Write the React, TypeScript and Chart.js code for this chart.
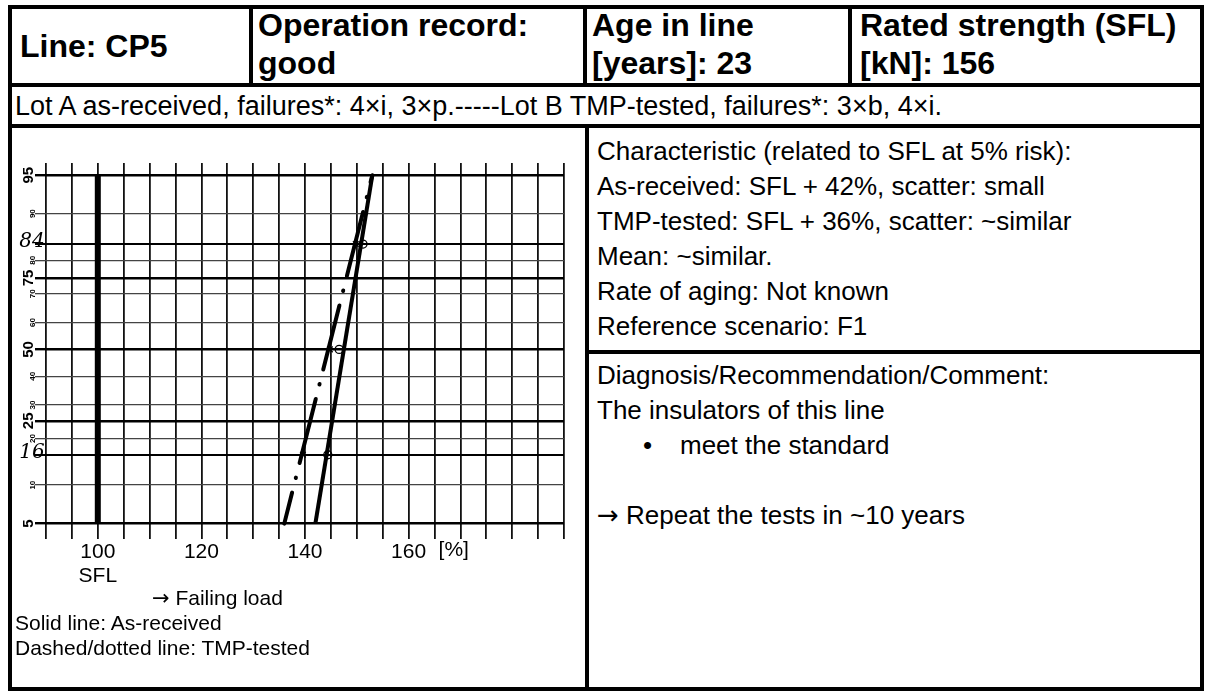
import React, { useEffect, useRef } from "react";
import { Chart, registerables } from "chart.js";

Chart.register(...registerables);

// ---------------- data ----------------
const probabilityLevels = [5, 10, 16, 20, 25, 30, 40, 50, 60, 70, 75, 80, 84, 90, 95];
const majorLevels = [5, 25, 50, 75, 95];
const handDrawnLevels = [16, 84];
const xGridValues = [90, 95, 100, 105, 110, 115, 120, 125, 130, 135, 140, 145, 150, 155, 160, 165, 170, 175, 180, 185, 190];
const xLabelValues = [100, 120, 140, 160];

const sflLoad = [100, 100];
const sflProb = [5, 95];
const asReceivedLoad = [142, 153];
const asReceivedProb = [5, 95];
const tmpLoad = [136, 153];
const tmpProb = [5, 95];
const markProb = [16, 50, 84];
const asReceivedMarkLoad = [144.4, 146.6, 151.2];
const tmpMarkLoad = [139.6, 144.8, 149.8];

const FONT = '"Liberation Sans", Arial, Helvetica, sans-serif';
const ARROW_FONT = '"DejaVu Sans", sans-serif';

// inverse of the normal distribution (probability paper scale)
function probit(pct: number): number {
  const p = pct / 100;
  const a = [-3.969683028665376e1, 2.209460984245205e2, -2.759285104469687e2, 1.38357751867269e2, -3.066479806614716e1, 2.506628277459239];
  const b = [-5.447609879822406e1, 1.615858368580409e2, -1.556989798598866e2, 6.680131188771972e1, -1.328068155288572e1];
  const c = [-7.784894002430293e-3, -3.223964580411365e-1, -2.400758277161838, -2.549732539343734, 4.374664141464968, 2.938163982698783];
  const d = [7.784695709041462e-3, 3.224671290700398e-1, 2.445134137142996, 3.754408661907416];
  const pl = 0.02425;
  if (p < pl) {
    const q = Math.sqrt(-2 * Math.log(p));
    return (((((c[0] * q + c[1]) * q + c[2]) * q + c[3]) * q + c[4]) * q + c[5]) / ((((d[0] * q + d[1]) * q + d[2]) * q + d[3]) * q + 1);
  }
  if (p <= 1 - pl) {
    const q = p - 0.5;
    const r = q * q;
    return ((((((a[0] * r + a[1]) * r + a[2]) * r + a[3]) * r + a[4]) * r + a[5]) * q) / (((((b[0] * r + b[1]) * r + b[2]) * r + b[3]) * r + b[4]) * r + 1);
  }
  const q = Math.sqrt(-2 * Math.log(1 - p));
  return -(((((c[0] * q + c[1]) * q + c[2]) * q + c[3]) * q + c[4]) * q + c[5]) / ((((d[0] * q + d[1]) * q + d[2]) * q + d[3]) * q + 1);
}

const toPoints = (loads: number[], probs: number[]) => loads.map((x, i) => ({ x, y: probit(probs[i]) }));
const levelOf = (v: number) => probabilityLevels.find((p) => Math.abs(probit(p) - v) < 1e-6) ?? 0;

const labelPlugin = {
  id: "probLabels",
  afterDraw(chart: any) {
    const { ctx, chartArea } = chart;
    const x = chart.scales.x;
    const y = chart.scales.y;
    ctx.save();
    ctx.fillStyle = "#000";
    probabilityLevels.forEach((p) => {
      const py = y.getPixelForValue(probit(p));
      const px = chartArea.left - 17;
      if (handDrawnLevels.includes(p)) {
        ctx.font = 'italic 20px "DejaVu Serif", serif';
        ctx.textAlign = "center";
        ctx.textBaseline = "middle";
        ctx.fillText(String(p), px + 3, py - 2);
      } else {
        const major = majorLevels.includes(p);
        ctx.save();
        ctx.translate(px + (major ? 0 : 4), py);
        ctx.rotate(-Math.PI / 2);
        ctx.font = major ? `bold 15px ${FONT}` : `bold 8px ${FONT}`;
        ctx.textAlign = "center";
        ctx.textBaseline = "middle";
        ctx.fillText(String(p), 0, 0);
        ctx.restore();
      }
    });
    ctx.font = `21px ${FONT}`;
    ctx.textAlign = "left";
    ctx.textBaseline = "top";
    ctx.fillText("[%]", x.getPixelForValue(160) + 30, chartArea.bottom + 1);
    ctx.restore();
  },
};

function ProbabilityChart() {
  const ref = useRef<HTMLCanvasElement>(null);
  useEffect(() => {
    const chart = new Chart(ref.current as HTMLCanvasElement, {
      type: "line",
      data: {
        datasets: [
          { data: toPoints(sflLoad, sflProb), borderColor: "#000", borderWidth: 6, pointRadius: 0, borderCapStyle: "butt" },
          { data: toPoints(asReceivedLoad, asReceivedProb), borderColor: "#000", borderWidth: 4, pointRadius: 0 },
          {
            data: toPoints(tmpLoad, tmpProb),
            borderColor: "#000",
            borderWidth: 4,
            pointRadius: 0,
            borderDash: [66, 15, 0.5, 15],
            borderDashOffset: 34,
            borderCapStyle: "round",
          },
          {
            data: toPoints(asReceivedMarkLoad, markProb),
            showLine: false,
            pointStyle: "circle",
            pointRadius: 4,
            pointBorderWidth: 1.3,
            pointBorderColor: "#000",
            pointBackgroundColor: "rgba(0,0,0,0)",
          },
          {
            data: toPoints(tmpMarkLoad, markProb),
            showLine: false,
            pointStyle: "crossRot",
            pointRadius: 4,
            pointBorderWidth: 1.3,
            pointBorderColor: "#000",
          },
        ],
      } as any,
      options: {
        animation: false,
        responsive: false,
        maintainAspectRatio: false,
        events: [],
        layout: { padding: { top: 35, right: 20, left: 0, bottom: 0 } },
        plugins: { legend: { display: false }, tooltip: { enabled: false } },
        scales: {
          x: {
            type: "linear",
            min: 90,
            max: 190,
            border: { display: false },
            afterBuildTicks: (s: any) => {
              s.ticks = xGridValues.map((v) => ({ value: v }));
            },
            grid: { color: "#111", lineWidth: 1.8, drawTicks: false },
            ticks: {
              autoSkip: false,
              maxRotation: 0,
              minRotation: 0,
              padding: 1,
              color: "#000",
              font: { family: FONT, size: 21, lineHeight: 1.15 },
              callback: (v: any) => (v === 100 ? ["100", "SFL"] : xLabelValues.includes(v) ? String(v) : ""),
            },
            afterFit: (s: any) => {
              s.height = 61;
            },
          },
          y: {
            type: "linear",
            min: -1.79,
            max: 1.76,
            border: { display: false },
            afterBuildTicks: (s: any) => {
              s.ticks = probabilityLevels.map((p) => ({ value: probit(p) }));
            },
            grid: {
              drawTicks: true,
              tickLength: 11,
              color: (ctx: any) => {
                const p = levelOf(ctx.tick ? ctx.tick.value : 0);
                return majorLevels.includes(p) || handDrawnLevels.includes(p) ? "#000" : "#444";
              },
              lineWidth: (ctx: any) => {
                const p = levelOf(ctx.tick ? ctx.tick.value : 0);
                return majorLevels.includes(p) ? 2.4 : handDrawnLevels.includes(p) ? 2 : 1.3;
              },
            },
            ticks: { display: false },
            afterFit: (s: any) => {
              s.width = 34;
            },
          },
        },
      } as any,
      plugins: [labelPlugin],
    });
    return () => chart.destroy();
  }, []);
  return (
    <canvas
      ref={ref}
      width={572}
      height={472}
      style={{ position: "absolute", left: 12, top: 128, width: 572, height: 472 }}
    />
  );
}

const B = 4;
const borderRects = [
  { l: 8, t: 5, w: 1196, h: B },
  { l: 8, t: 687, w: 1196, h: B },
  { l: 8, t: 5, w: B, h: 686 },
  { l: 1200, t: 5, w: B, h: 686 },
  { l: 8, t: 83, w: 1196, h: B },
  { l: 8, t: 124, w: 1196, h: B },
  { l: 249, t: 5, w: B, h: 82 },
  { l: 583, t: 5, w: B, h: 82 },
  { l: 848, t: 5, w: B, h: 82 },
  { l: 585, t: 124, w: B, h: 567 },
  { l: 585, t: 350, w: 619, h: B },
];

function Txt(props: { l: number; t: number; size: number; lh: number; bold?: boolean; lines: React.ReactNode[] }) {
  return (
    <div
      style={{
        position: "absolute",
        left: props.l,
        top: props.t,
        fontSize: props.size,
        lineHeight: `${props.lh}px`,
        fontWeight: props.bold ? "bold" : "normal",
        whiteSpace: "pre",
      }}
    >
      {props.lines.map((s, i) => (
        <div key={i}>{s}</div>
      ))}
    </div>
  );
}

const Arrow = () => <span style={{ fontFamily: ARROW_FONT }}>→</span>;

export default function App() {
  return (
    <div
      style={{
        position: "absolute",
        left: 0,
        top: 0,
        width: 1210,
        height: 693,
        background: "#fff",
        color: "#000",
        fontFamily: FONT,
        overflow: "hidden",
      }}
    >
      <ProbabilityChart />
      {borderRects.map((r, i) => (
        <div key={i} style={{ position: "absolute", left: r.l, top: r.t, width: r.w, height: r.h, background: "#000" }} />
      ))}
      <Txt l={20} t={27} size={32} lh={38} bold lines={["Line: CP5"]} />
      <Txt l={258} t={6} size={32} lh={38} bold lines={["Operation record:", "good"]} />
      <Txt l={592} t={6} size={32} lh={38} bold lines={["Age in line", "[years]: 23"]} />
      <Txt l={860} t={6} size={32} lh={38} bold lines={["Rated strength (SFL)", "[kN]: 156"]} />
      <Txt
        l={15}
        t={89}
        size={27}
        lh={34}
        lines={["Lot A as-received, failures*: 4×i, 3×p.-----Lot B TMP-tested, failures*: 3×b, 4×i."]}
      />
      <Txt
        l={597}
        t={134}
        size={26}
        lh={35}
        lines={[
          "Characteristic (related to SFL at 5% risk):",
          "As-received: SFL + 42%, scatter: small",
          "TMP-tested: SFL + 36%, scatter: ~similar",
          "Mean: ~similar.",
          "Rate of aging: Not known",
          "Reference scenario: F1",
        ]}
      />
      <Txt l={597} t={358} size={26} lh={35} lines={["Diagnosis/Recommendation/Comment:", "The insulators of this line"]} />
      <Txt l={643} t={428} size={26} lh={35} lines={["•"]} />
      <Txt l={680} t={428} size={26} lh={35} lines={["meet the standard"]} />
      <Txt l={597} t={498} size={26} lh={35} lines={[<><Arrow /> Repeat the tests in ~10 years</>]} />
      <Txt l={152} t={585} size={21} lh={25} lines={[<><Arrow /> Failing load</>]} />
      <Txt l={15} t={610} size={21} lh={25} lines={["Solid line: As-received", "Dashed/dotted line: TMP-tested"]} />
    </div>
  );
}
